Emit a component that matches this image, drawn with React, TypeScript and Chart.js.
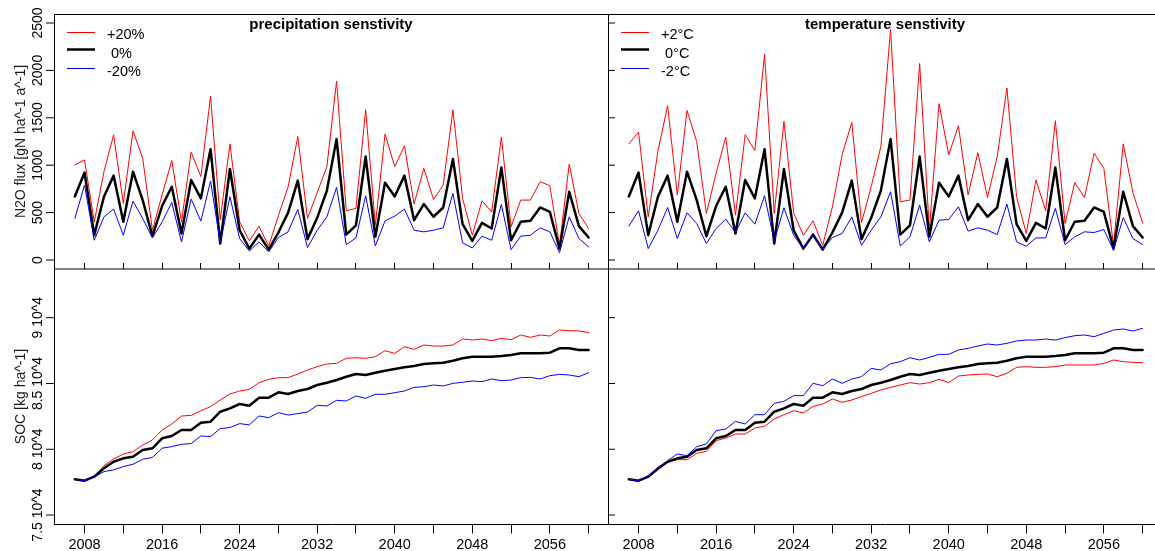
import React, { useEffect, useRef } from "react";
import { Chart, registerables } from "chart.js";

Chart.register(...registerables);

// ---- data -----------------------------------------------------------------

const YEARS = [
  2007, 2008, 2009, 2010, 2011, 2012, 2013, 2014, 2015, 2016, 2017, 2018, 2019, 2020,
  2021, 2022, 2023, 2024, 2025, 2026, 2027, 2028, 2029, 2030, 2031, 2032, 2033, 2034,
  2035, 2036, 2037, 2038, 2039, 2040, 2041, 2042, 2043, 2044, 2045, 2046, 2047, 2048,
  2049, 2050, 2051, 2052, 2053, 2054, 2055, 2056, 2057, 2058, 2059, 2060,
];

// N2O flux [gN ha^-1 a^-1], reference climate
const N2O_BASE = [
  670, 922, 262, 667, 890, 403, 932, 632, 251, 569, 773, 279, 844, 650,
  1169, 173, 960, 314, 120, 268, 109, 290, 500, 837, 220, 445, 732, 1275,
  268, 366, 1091, 244, 816, 670, 890, 420, 590, 456, 554, 1066, 378, 201,
  392, 332, 975, 208, 403, 413, 554, 508, 120, 720, 357, 237,
];
// precipitation +20 % / -20 %
const N2O_PREC_UP = [
  1003, 1056, 400, 930, 1320, 597, 1363, 1073, 314, 685, 1049, 403, 1137, 879,
  1727, 420, 1225, 403, 201, 357, 145, 470, 770, 1303, 438, 710, 985, 1886,
  519, 544, 1585, 367, 1328, 985, 1204, 590, 967, 639, 791, 1585, 650, 261,
  625, 508, 1296, 350, 632, 632, 826, 784, 155, 1013, 491, 332,
];
const N2O_PREC_DOWN = [
  438, 791, 208, 455, 537, 261, 621, 438, 233, 402, 607, 191, 643, 410,
  833, 184, 667, 226, 95, 191, 85, 237, 297, 533, 131, 314, 455, 766,
  162, 233, 678, 148, 413, 463, 537, 314, 297, 314, 339, 703, 180, 127,
  251, 208, 586, 109, 251, 261, 339, 297, 78, 456, 226, 138,
];
// temperature +2 °C / -2 °C
const N2O_TEMP_UP = [
  1225, 1349, 455, 1150, 1628, 685, 1578, 1250, 491, 915, 1296, 473, 1321, 1155,
  2168, 491, 1462, 498, 261, 413, 155, 561, 1109, 1451, 392, 773, 1197, 2433,
  614, 632, 2073, 314, 1649, 1109, 1416, 685, 1133, 660, 1091, 1815, 667, 279,
  844, 519, 1469, 385, 816, 660, 1126, 967, 155, 1225, 710, 392,
];
const N2O_TEMP_DOWN = [
  357, 519, 120, 314, 554, 226, 498, 385, 173, 332, 431, 290, 498, 378,
  678, 201, 551, 261, 120, 251, 113, 237, 279, 455, 155, 314, 455, 720,
  148, 244, 579, 191, 420, 427, 561, 304, 339, 314, 268, 590, 191, 145,
  233, 233, 544, 162, 244, 297, 290, 321, 102, 448, 226, 162,
];

// SOC [kg ha^-1], reference climate
const SOC_BASE = [
  77714, 77608, 77912, 78548, 79050, 79308, 79430, 79940, 80068, 80829, 81005, 81460, 81460, 82018,
  82094, 82854, 83108, 83440, 83310, 83918, 83918, 84325, 84200, 84428, 84580, 84884, 85060, 85264,
  85516, 85720, 85644, 85820, 85973, 86100, 86227, 86329, 86481, 86531, 86582, 86734, 86912, 87038,
  87038, 87038, 87089, 87165, 87292, 87292, 87292, 87343, 87672, 87672, 87545, 87545,
];
const SOC_PREC_UP = [
  77714, 77560, 77940, 78750, 79260, 79640, 79815, 80322, 80702, 81460, 81920, 82525, 82577, 82930,
  83237, 83742, 84197, 84426, 84553, 85060, 85313, 85440, 85440, 85720, 86024, 86277, 86480, 86530,
  86910, 86960, 86910, 87037, 87493, 87290, 87797, 87594, 87925, 87849, 87849, 87925, 88381, 88305,
  88381, 88254, 88432, 88330, 88685, 88508, 88685, 88609, 89066, 89015, 89000, 88862,
];
const SOC_PREC_DOWN = [
  77714, 77608, 77890, 78300, 78430, 78680, 78860, 79240, 79370, 80080, 80200, 80380, 80430, 81010,
  80960, 81570, 81650, 81950, 81850, 82530, 82400, 82780, 82600, 82710, 82830, 83340, 83290, 83720,
  83670, 84050, 83870, 84180, 84180, 84301, 84428, 84707, 84757, 84884, 84808, 85011, 85087, 85188,
  85138, 85340, 85213, 85264, 85441, 85467, 85340, 85593, 85694, 85644, 85517, 85822,
];
const SOC_TEMP_UP = [
  77714, 77560, 77865, 78422, 79005, 79206, 79206, 79688, 79840, 80651, 80854, 81158, 81158, 81614,
  81740, 82298, 82627, 82931, 82754, 83260, 83440, 83820, 83567, 83744, 83997, 84250, 84504, 84700,
  84884, 85062, 84960, 85062, 85315, 85062, 85568, 85644, 85694, 85720, 85517, 85770, 86227, 86278,
  86227, 86227, 86278, 86405, 86405, 86405, 86405, 86532, 86785, 86658, 86608, 86582,
];
const SOC_TEMP_DOWN = [
  77714, 77608, 77990, 78573, 79130, 79637, 79510, 80195, 80398, 81410, 81536, 82120, 81917, 82627,
  82627, 83490, 83643, 84073, 84073, 85010, 84833, 85340, 85010, 85340, 85517, 86150, 86024, 86500,
  86658, 86962, 86785, 86988, 87216, 87216, 87545, 87672, 87849, 88001, 87925, 88052, 88229, 88305,
  88305, 88381, 88305, 88482, 88634, 88685, 88558, 88812, 89066, 89142, 88990, 89193,
];

// axis ticks and labels
const YEAR_TICKS = [2008, 2012, 2016, 2020, 2024, 2028, 2032, 2036, 2040, 2044, 2048, 2052, 2056, 2060];
const YEAR_LABELS = [2008, 2016, 2024, 2032, 2040, 2048, 2056];
const N2O_TICKS = [0, 500, 1000, 1500, 2000, 2500];
const N2O_TICK_LABELS = ["0", "500", "1000", "1500", "2000", "2500"];
const SOC_TICKS = [75000, 80000, 85000, 90000];
const SOC_TICK_LABELS = ["7.5 10^4", "8 10^4", "8.5 10^4", "9 10^4"];

const PREC_LEGEND = ["+20%", " 0%", "-20%"];
const TEMP_LEGEND = ["+2\u00b0C", " 0\u00b0C", "-2\u00b0C"];

// ---- layout / style ---------------------------------------------------------

const CANVAS_W = 1170;
const CANVAS_H = 551;
const X_MIN = 2004.85;
const X_MAX = 2062.0;
const N2O_MIN = -95;
const N2O_MAX = 2595;
const SOC_MIN = 74316;
const SOC_MAX = 93704;

const FONT = '"Liberation Sans", Arial, Helvetica, sans-serif';
const RED = "#ff0000";
const BLUE = "#0000ff";
const BLACK = "#000000";

type Panel = {
  id: string;
  box: { left: number; top: number; right: number; bottom: number };
  yMin: number;
  yMax: number;
  series: { up: number[]; base: number[]; down: number[] };
  yTicks: number[];
  yTickLabels: string[] | null;
  yTitle: string | null;
  xLabels: boolean;
  top: boolean;
  title: string | null;
  legend: string[] | null;
};

const PANELS: Panel[] = [
  {
    id: "n2o-prec",
    box: { left: 54, top: 14, right: 608, bottom: 269 },
    yMin: N2O_MIN, yMax: N2O_MAX,
    series: { up: N2O_PREC_UP, base: N2O_BASE, down: N2O_PREC_DOWN },
    yTicks: N2O_TICKS, yTickLabels: N2O_TICK_LABELS,
    yTitle: "N2O flux [gN ha^-1 a^-1]",
    xLabels: false, top: true,
    title: "precipitation senstivity", legend: PREC_LEGEND,
  },
  {
    id: "n2o-temp",
    box: { left: 608, top: 14, right: 1162, bottom: 269 },
    yMin: N2O_MIN, yMax: N2O_MAX,
    series: { up: N2O_TEMP_UP, base: N2O_BASE, down: N2O_TEMP_DOWN },
    yTicks: N2O_TICKS, yTickLabels: null, yTitle: null,
    xLabels: false, top: true,
    title: "temperature senstivity", legend: TEMP_LEGEND,
  },
  {
    id: "soc-prec",
    box: { left: 54, top: 269, right: 608, bottom: 524 },
    yMin: SOC_MIN, yMax: SOC_MAX,
    series: { up: SOC_PREC_UP, base: SOC_BASE, down: SOC_PREC_DOWN },
    yTicks: SOC_TICKS, yTickLabels: SOC_TICK_LABELS,
    yTitle: "SOC [kg ha^-1]",
    xLabels: true, top: false, title: null, legend: null,
  },
  {
    id: "soc-temp",
    box: { left: 608, top: 269, right: 1162, bottom: 524 },
    yMin: SOC_MIN, yMax: SOC_MAX,
    series: { up: SOC_TEMP_UP, base: SOC_BASE, down: SOC_TEMP_DOWN },
    yTicks: SOC_TICKS, yTickLabels: null, yTitle: null,
    xLabels: true, top: false, title: null, legend: null,
  },
];

function points(values: number[]) {
  return YEARS.map((yr, i) => ({ x: yr, y: values[i] }));
}

function line(ctx: CanvasRenderingContext2D, x1: number, y1: number, x2: number, y2: number) {
  ctx.beginPath();
  ctx.moveTo(x1, y1);
  ctx.lineTo(x2, y2);
  ctx.stroke();
}

// frame, ticks, labels, title and legend of one panel
function panelDecor(panel: Panel) {
  return {
    id: "panelDecor-" + panel.id,
    afterDraw(chart: Chart) {
      const ctx = chart.ctx;
      const { left, right, top, bottom } = chart.chartArea;
      const xs = chart.scales.x;
      const ys = chart.scales.y;
      const isLeft = !!panel.yTickLabels;

      ctx.save();
      ctx.strokeStyle = BLACK;
      ctx.fillStyle = BLACK;
      ctx.lineWidth = 1;

      // frame
      if (isLeft) line(ctx, left + 0.5, top, left + 0.5, bottom + 0.5);
      else line(ctx, left + 0.5, top, left + 0.5, bottom + 0.5);
      line(ctx, right + 0.5, top, right + 0.5, bottom + 0.5);
      if (panel.top) {
        line(ctx, left, top + 0.5, right + 1, top + 0.5);
        line(ctx, left, bottom, right + 1, bottom);
      } else {
        line(ctx, left, bottom + 0.5, right + 1, bottom + 0.5);
      }

      // y ticks
      for (let i = 0; i < panel.yTicks.length; i++) {
        const py = ys.getPixelForValue(panel.yTicks[i]);
        if (isLeft) line(ctx, left - 8, py, left, py);
        else line(ctx, left, py, left + 7, py);
      }

      // y tick labels (rotated)
      ctx.font = "14px " + FONT;
      ctx.textAlign = "center";
      ctx.textBaseline = "alphabetic";
      if (panel.yTickLabels) {
        for (let i = 0; i < panel.yTicks.length; i++) {
          const py = ys.getPixelForValue(panel.yTicks[i]);
          ctx.save();
          ctx.translate(left - 12, py);
          ctx.rotate(-Math.PI / 2);
          ctx.fillText(panel.yTickLabels[i], 0, 0);
          ctx.restore();
        }
      }
      if (panel.yTitle) {
        ctx.save();
        ctx.fillStyle = "#1a1a1a";
        ctx.translate(left - 29.5, (top + bottom) / 2);
        ctx.rotate(-Math.PI / 2);
        ctx.fillText(panel.yTitle, 0, 0);
        ctx.restore();
      }

      // x ticks
      for (const yr of YEAR_TICKS) {
        const px = Math.floor(xs.getPixelForValue(yr)) + 0.5;
        if (panel.top) line(ctx, px, bottom, px, bottom - 6);
        else line(ctx, px, bottom, px, bottom + 9.5);
      }
      if (panel.xLabels) {
        ctx.font = "14.5px " + FONT;
        for (const yr of YEAR_LABELS) {
          const px = xs.getPixelForValue(yr);
          ctx.fillText(String(yr), px, bottom + 25);
        }
      }

      // panel title
      if (panel.title) {
        ctx.font = "bold 15px " + FONT;
        ctx.fillText(panel.title, (left + right) / 2, top + 14.5);
      }

      // legend
      if (panel.legend) {
        const styles = [
          { color: RED, width: 1, ly: 18.5, ty: 25 },
          { color: BLACK, width: 2.5, ly: 35.5, ty: 43.5 },
          { color: BLUE, width: 1, ly: 54.5, ty: 62 },
        ];
        ctx.font = "14.5px " + FONT;
        ctx.textAlign = "left";
        styles.forEach((s, i) => {
          ctx.strokeStyle = s.color;
          ctx.lineWidth = s.width;
          line(ctx, left + 13, top + s.ly, left + 41, top + s.ly);
          ctx.fillStyle = BLACK;
          ctx.fillText(panel.legend![i], left + 53, top + s.ty);
        });
      }
      ctx.restore();
    },
  };
}

function buildConfig(panel: Panel): any {
  const { box } = panel;
  const lineStyle = { pointRadius: 0, tension: 0, borderJoinStyle: "round", borderCapStyle: "round", fill: false };
  return {
    type: "line",
    data: {
      datasets: [
        { label: "up", data: points(panel.series.up), borderColor: RED, borderWidth: 1, order: 2, ...lineStyle },
        { label: "base", data: points(panel.series.base), borderColor: BLACK, borderWidth: 2.5, order: 1, ...lineStyle },
        { label: "down", data: points(panel.series.down), borderColor: BLUE, borderWidth: 1, order: 0, ...lineStyle },
      ],
    },
    options: {
      responsive: false,
      animation: false,
      devicePixelRatio: 1,
      events: [],
      layout: {
        padding: {
          left: box.left,
          top: box.top,
          right: CANVAS_W - box.right,
          bottom: CANVAS_H - box.bottom,
        },
      },
      scales: {
        x: { type: "linear", min: X_MIN, max: X_MAX, display: false, bounds: "data" },
        y: { type: "linear", min: panel.yMin, max: panel.yMax, display: false, bounds: "data" },
      },
      plugins: {
        legend: { display: false },
        tooltip: { enabled: false },
        title: { display: false },
      },
    },
    plugins: [panelDecor(panel)],
  };
}

export default function App() {
  const c0 = useRef<HTMLCanvasElement>(null);
  const c1 = useRef<HTMLCanvasElement>(null);
  const c2 = useRef<HTMLCanvasElement>(null);
  const c3 = useRef<HTMLCanvasElement>(null);
  const refs = [c0, c1, c2, c3];

  useEffect(() => {
    const charts = PANELS.map((p, i) => new Chart(refs[i].current as HTMLCanvasElement, buildConfig(p)));
    return () => charts.forEach((c) => c.destroy());
  }, []);

  return (
    <div
      style={{
        position: "absolute",
        left: 0,
        top: 0,
        width: 1155,
        height: 551,
        overflow: "hidden",
        background: "#ffffff",
      }}
    >
      {PANELS.map((p, i) => (
        <canvas
          key={p.id}
          ref={refs[i]}
          width={CANVAS_W}
          height={CANVAS_H}
          style={{ position: "absolute", left: 0, top: 0, width: CANVAS_W, height: CANVAS_H }}
        />
      ))}
    </div>
  );
}
